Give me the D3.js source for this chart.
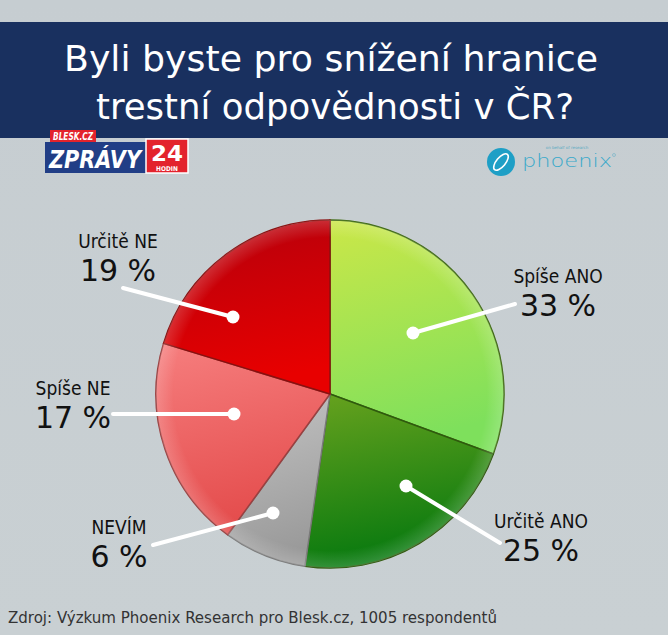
<!DOCTYPE html>
<html><head><meta charset="utf-8">
<script src="https://cdn.jsdelivr.net/npm/d3@7"></script>
<style>
html,body{margin:0;padding:0;background:#c9d0d4;}
svg{display:block;}
</style></head>
<body>
<svg id="c" width="668" height="635"></svg>
<script>
// ---- data ----
const categories = ["Spíše ANO", "Určitě ANO", "NEVÍM", "Spíše NE", "Určitě NE"];
const percentLabels = [33, 25, 6, 17, 19];          // values printed on the chart
const sliceShares = [30.6, 21.7, 7.7, 19.7, 20.3];   // slice sizes as drawn in the picture
const titleLines = ["Byli byste pro snížení hranice", "trestní odpovědnosti v ČR?"];
const sourceText = "Zdroj: Výzkum Phoenix Research pro Blesk.cz, 1005 respondentů";

// ---- styles / layout ----
const sliceColors = [
  ["#cbe748", "#7ee05c"],
  ["#68a21e", "#07790f"],
  ["#c4c4c4", "#9a9a9a"],
  ["#f67e7e", "#e44c4c"],
  ["#b4000c", "#e80000"]
];
const sliceStroke = ["#3f6a12", "#2f5a0e", "#7a7a7a", "#9a4040", "#8a1010"];
const cx = 330, cy = 394, R = 174;
const titleLayout = [{x:331, y:71, w:534}, {x:335, y:119, w:478}];
// dot offsets from center, line end points, label anchors
const layout = [
  {dot:[83,-61],  end:[515,304], lx:558, ly:283},
  {dot:[76,92],   end:[500,543], lx:541, ly:528},
  {dot:[-57,119], end:[153,545], lx:119, ly:534},
  {dot:[-96,20],  end:[113,414], lx:73,  ly:395},
  {dot:[-97,-77], end:[123,288], lx:118, ly:248}
];

const svg = d3.select("#c");
const defs = svg.append("defs");

const bg = defs.append("linearGradient").attr("id","bg").attr("x1",0).attr("y1",0).attr("x2",0).attr("y2",1);
bg.append("stop").attr("offset",0).attr("stop-color","#c6cdd1");
bg.append("stop").attr("offset",1).attr("stop-color","#c9d0d3");
svg.append("rect").attr("width",668).attr("height",635).attr("fill","url(#bg)");

// title band
svg.append("rect").attr("x",0).attr("y",22).attr("width",668).attr("height",116).attr("fill","#19305f");
svg.append("g").selectAll("text").data(titleLines).join("text")
  .attr("x", (d,i)=>titleLayout[i].x).attr("y", (d,i)=>titleLayout[i].y)
  .attr("text-anchor","middle")
  .attr("fill","#ffffff")
  .attr("textLength",(d,i)=>titleLayout[i].w).attr("lengthAdjust","spacingAndGlyphs")
  .style("font-family","'DejaVu Sans',sans-serif")
  .style("font-size","36px")
  .text(d=>d);

// ---- Blesk Zprávy 24 logo ----
const lg = svg.append("g");
lg.append("rect").attr("x",50).attr("y",130).attr("width",46).attr("height",12).attr("fill","#e3232d");
lg.append("text").attr("x",73).attr("y",140).attr("text-anchor","middle").attr("fill","#fff")
  .style("font-family","'DejaVu Sans Condensed',sans-serif").style("font-size","10px")
  .style("font-weight","bold").style("font-style","italic")
  .attr("textLength",40).attr("lengthAdjust","spacingAndGlyphs").text("BLESK.CZ");
lg.append("rect").attr("x",45).attr("y",142).attr("width",101).attr("height",31).attr("fill","#213e86");
lg.append("text").attr("x",95).attr("y",168).attr("text-anchor","middle").attr("fill","#fff")
  .style("font-family","'DejaVu Sans Condensed',sans-serif").style("font-size","25px")
  .style("font-weight","bold").style("font-style","italic").attr("textLength",92).attr("lengthAdjust","spacingAndGlyphs").text("ZPRÁVY");
lg.append("rect").attr("x",146).attr("y",139).attr("width",42).attr("height",34).attr("fill","#e3232d").attr("stroke","#fff").attr("stroke-width",1.5);
lg.append("text").attr("x",167).attr("y",161).attr("text-anchor","middle").attr("fill","#fff")
  .style("font-family","'DejaVu Sans Condensed',sans-serif").style("font-size","22px")
  .style("font-weight","bold").attr("textLength",32).attr("lengthAdjust","spacingAndGlyphs").text("24");
lg.append("text").attr("x",167).attr("y",170.5).attr("text-anchor","middle").attr("fill","#fff")
  .style("font-family","'DejaVu Sans Condensed',sans-serif").style("font-size","6.5px")
  .style("font-weight","bold").text("HODIN");

// ---- phoenix logo ----
const pg = svg.append("g");
pg.append("circle").attr("cx",501).attr("cy",162).attr("r",14).attr("fill","#1e9fc6");
pg.append("ellipse").attr("cx",501).attr("cy",162).attr("rx",4.5).attr("ry",10)
  .attr("transform","rotate(40,501,162)").attr("fill","none").attr("stroke","#fff").attr("stroke-width",1.6);
pg.append("text").attr("x",522).attr("y",167).attr("fill","#3aa9ca")
  .style("font-family","'DejaVu Sans',sans-serif").style("font-size","17px").style("font-weight","200")
  .attr("textLength",90).attr("lengthAdjust","spacingAndGlyphs").text("phoenix");
pg.append("text").attr("x",567).attr("y",148.5).attr("text-anchor","middle").attr("fill","#5aaac2")
  .style("font-family","'DejaVu Sans',sans-serif").style("font-size","4px").text("on behalf of research");
pg.append("circle").attr("cx",614).attr("cy",155).attr("r",1.5).attr("fill","none").attr("stroke","#5aaac2").attr("stroke-width",0.5);

// ---- pie ----
const data = categories.map((c,i)=>({name:c, pct:percentLabels[i], share:sliceShares[i], i}));
const pie = d3.pie().sort(null).value(d=>d.share);
const arc = d3.arc().innerRadius(0).outerRadius(R);
const arcs = pie(data);

arcs.forEach((a,i)=>{
  const g = defs.append("linearGradient").attr("id","g"+i).attr("x1",0).attr("y1",0).attr("x2",0.2).attr("y2",1);
  g.append("stop").attr("offset",0).attr("stop-color",sliceColors[i][0]);
  g.append("stop").attr("offset",1).attr("stop-color",sliceColors[i][1]);
});
const rim = defs.append("radialGradient").attr("id","rim").attr("cx",0.5).attr("cy",0.5).attr("r",0.5);
rim.append("stop").attr("offset",0.9).attr("stop-color","#fff").attr("stop-opacity",0);
rim.append("stop").attr("offset",1).attr("stop-color","#fff").attr("stop-opacity",0.18);

const pieG = svg.append("g").attr("transform",`translate(${cx},${cy})`);
pieG.selectAll("path.slice").data(arcs).join("path")
  .attr("class","slice")
  .attr("d",arc)
  .attr("fill",(d,i)=>`url(#g${i})`)
  .attr("stroke",(d,i)=>sliceStroke[i])
  .attr("stroke-width",1.5)
  .attr("stroke-linejoin","round");
pieG.append("circle").attr("r",R).attr("fill","url(#rim)").attr("pointer-events","none");

// leader lines and dots
const lab = svg.append("g");
lab.selectAll("line").data(data).join("line")
  .attr("x1",d=>cx+layout[d.i].dot[0]).attr("y1",d=>cy+layout[d.i].dot[1])
  .attr("x2",d=>layout[d.i].end[0]).attr("y2",d=>layout[d.i].end[1])
  .attr("stroke","#ffffff").attr("stroke-width",4).attr("stroke-linecap","round");
lab.selectAll("circle").data(data).join("circle")
  .attr("cx",d=>cx+layout[d.i].dot[0]).attr("cy",d=>cy+layout[d.i].dot[1])
  .attr("r",6.5).attr("fill","#ffffff");

// labels
lab.selectAll("text.name").data(data).join("text").attr("class","name")
  .attr("x",d=>layout[d.i].lx).attr("y",d=>layout[d.i].ly)
  .attr("text-anchor","middle").attr("fill","#111")
  .style("font-family","'DejaVu Sans Condensed','DejaVu Sans',sans-serif")
  .style("font-size","19px")
  .text(d=>d.name);
lab.selectAll("text.pct").data(data).join("text").attr("class","pct")
  .attr("x",d=>layout[d.i].lx).attr("y",d=>layout[d.i].ly+33)
  .attr("text-anchor","middle").attr("fill","#111")
  .style("font-family","'DejaVu Sans',sans-serif")
  .style("font-size","30px")
  .text(d=>d.pct+" %");

// source
svg.append("text").attr("x",8).attr("y",623).attr("fill","#333")
  .style("font-family","'DejaVu Sans Condensed','DejaVu Sans',sans-serif")
  .style("font-size","16.5px")
  .attr("textLength",489).attr("lengthAdjust","spacingAndGlyphs")
  .text(sourceText);
</script>
</body></html>
